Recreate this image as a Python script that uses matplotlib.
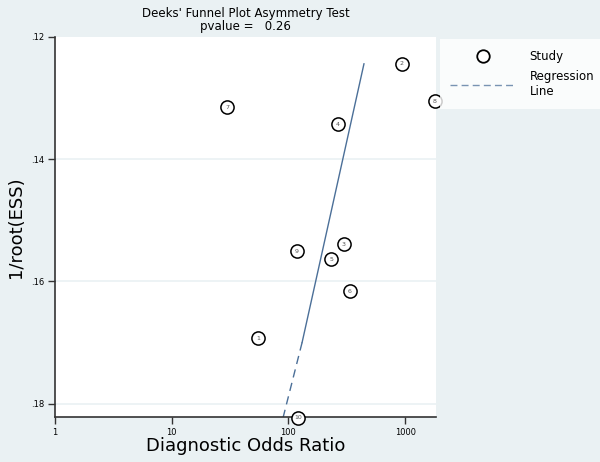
import numpy as np
import matplotlib
matplotlib.use("Agg")
import matplotlib.pyplot as plt
from matplotlib.lines import Line2D

# study data
study_id = ["1", "2", "3", "4", "5", "6", "7", "8", "9", "10"]
dor = [55, 940, 299, 266, 232, 337, 30, 1800, 118, 121]
inv_root_ess = [0.1693, 0.1244, 0.1539, 0.1343, 0.1564, 0.1616, 0.1315, 0.1305, 0.1551, 0.1823]

# regression line ends (top, where the dashes start, bottom)
reg_y = [0.1244, 0.1700, 0.1823]
reg_dor = [444, 131, 90]

pvalue = 0.26
bg = "#eaf1f3"
line_col = "#4b6f98"

fig = plt.figure(figsize=(6, 4.62), dpi=100, facecolor=bg)
ax = fig.add_axes([0.0917, 0.0974, 0.635, 0.8226])
ax.set_facecolor("white")

ax.set_xscale("log")
ax.set_xlim(1, 1840)
ax.set_ylim(0.1822, 0.12)

# gridlines
for yv in [0.14, 0.16, 0.18]:
    ax.axhline(yv, color=bg, lw=1.2, zorder=0)

# regression line: solid upper part, dashed lower part
ax.plot(reg_dor[:2], reg_y[:2], color=line_col, lw=1.0, zorder=2)
ax.plot(reg_dor[1:], reg_y[1:], color=line_col, lw=1.0, ls=(0, (6, 4)), zorder=2)

# study markers with numbers
ax.scatter(dor, inv_root_ess, s=90, facecolor="white", edgecolor="black",
           linewidth=1.1, zorder=3, clip_on=False)
for sid, xv, yv in zip(study_id, dor, inv_root_ess):
    ax.text(xv, yv, sid, fontsize=4.5, color="#555555", ha="center",
            va="center", zorder=4, clip_on=False)

for s in ["top", "right"]:
    ax.spines[s].set_visible(False)
for s in ["left", "bottom"]:
    ax.spines[s].set_color("#333333")
    ax.spines[s].set_linewidth(1.2)

ax.set_xticks([1, 10, 100, 1000])
ax.set_xticklabels(["1", "10", "100", "1000"])
ax.xaxis.set_minor_locator(matplotlib.ticker.NullLocator())
ax.set_yticks([0.12, 0.14, 0.16, 0.18])
ax.set_yticklabels([".12", ".14", ".16", ".18"])
ax.tick_params(axis="both", labelsize=6, length=5, width=1, color="#333333",
               direction="out", pad=3)

ax.set_xlabel("Diagnostic Odds Ratio", fontsize=13, labelpad=0)
ax.set_ylabel("1/root(ESS)", fontsize=13, labelpad=4)

ax.set_title("Deeks' Funnel Plot Asymmetry Test\npvalue =   %.2f" % pvalue,
             fontsize=8.5, linespacing=1.0, pad=5)

# legend box
handles = [
    Line2D([], [], marker="o", ls="none", markersize=9, markerfacecolor="white",
           markeredgecolor="black", markeredgewidth=1.3),
    Line2D([], [], color="#7893b2", lw=1.0, ls=(0, (5, 3))),
]
leg = fig.legend(handles, ["Study", "Regression\nLine"], loc="upper left",
                 bbox_to_anchor=(0.733, 0.915), fontsize=8.5, frameon=True,
                 fancybox=False, edgecolor="white", facecolor="white",
                 handlelength=5.5, handletextpad=1.2, borderpad=0.9,
                 labelspacing=0.6, borderaxespad=0)
leg.get_frame().set_linewidth(0)

fig.savefig("out.png", dpi=100, facecolor=bg)
